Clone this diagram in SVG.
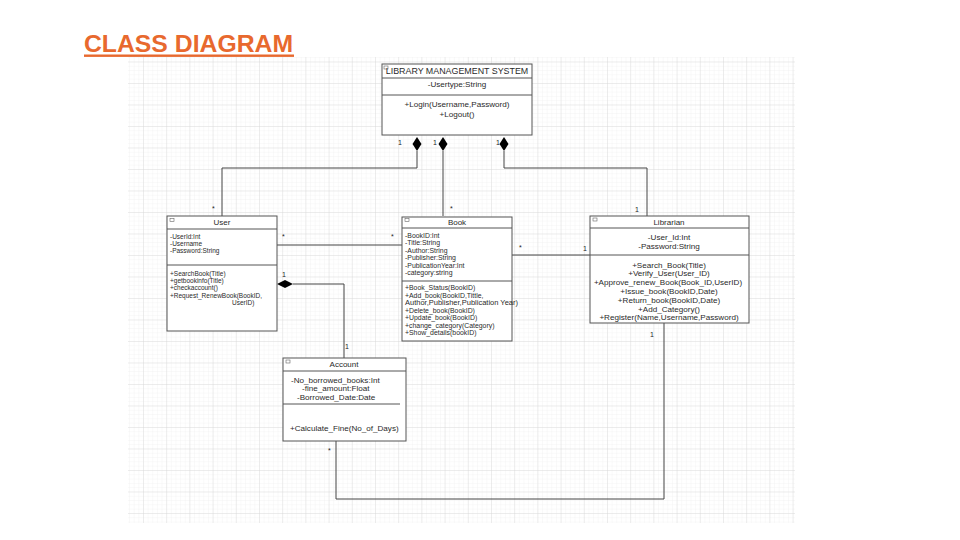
<svg xmlns="http://www.w3.org/2000/svg" width="960" height="540" viewBox="0 0 960 540">
<defs>
<pattern id="minor" patternUnits="userSpaceOnUse" x="143" y="83" width="4.64" height="4.3">
<path d="M0 0H4.64M0 0V4.3" fill="none" stroke="#efefef" stroke-width="0.7"/>
</pattern>
<pattern id="major" patternUnits="userSpaceOnUse" x="143" y="83" width="23.2" height="21.5">
<path d="M0 0H23.2M0 0V21.5" fill="none" stroke="#d9d9d9" stroke-width="0.8"/>
</pattern>
<style>
.box{fill:#fff;stroke:#555;stroke-width:1}
.div{stroke:#555;stroke-width:1}
.t{font-family:"Liberation Sans",Arial,sans-serif;fill:#2a2a2a}
.su{font-size:6.5px}
.sb{font-size:6.9px}
.s8{font-size:8.1px}
.hd{font-size:8px;text-anchor:middle}
.mid{text-anchor:middle}
.con{fill:none;stroke:#444;stroke-width:1}
.lbl{font-family:"Liberation Sans",Arial,sans-serif;font-size:7px;fill:#222}
.ic{fill:#fff;stroke:#666;stroke-width:0.6}
</style>
</defs>
<rect width="960" height="540" fill="#fff"/>
<g id="grid">
<rect x="128" y="57" width="667" height="466" fill="url(#minor)"/>
<rect x="128" y="57" width="667" height="466" fill="url(#major)"/>
</g>
<g id="title">
<text x="84" y="52" font-family="Liberation Sans,Arial,sans-serif" font-weight="bold" font-size="24.5" fill="#E8692E" textLength="209" lengthAdjust="spacingAndGlyphs">CLASS DIAGRAM</text>
<rect x="84" y="54.5" width="210" height="2.4" fill="#E8692E"/>
</g>
<g id="connectors">
<path class="con" d="M417 151V168H222V216"/>
<path class="con" d="M443 151V216"/>
<path class="con" d="M504 151V168H647V216"/>
<path class="con" d="M277 245H402"/>
<path class="con" d="M512 255H590"/>
<path class="con" d="M293 284H344V358"/>
<path class="con" d="M336 441V499H664V323"/>
<path d="M417 137L421.5 144L417 151L412.5 144Z" fill="#000"/>
<path d="M443 137L447.5 144L443 151L438.5 144Z" fill="#000"/>
<path d="M504 137L508.5 144L504 151L499.5 144Z" fill="#000"/>
<path d="M277 284L285 280L293 284L285 288Z" fill="#000"/>
<text class="lbl" x="398" y="145">1</text>
<text class="lbl" x="433" y="145">1</text>
<text class="lbl" x="496" y="145">1</text>
<text class="lbl" x="212" y="211">*</text>
<text class="lbl" x="450" y="211">*</text>
<text class="lbl" x="635" y="212">1</text>
<text class="lbl" x="282" y="239">*</text>
<text class="lbl" x="391" y="239">*</text>
<text class="lbl" x="519" y="250">*</text>
<text class="lbl" x="583" y="251">1</text>
<text class="lbl" x="282" y="277">1</text>
<text class="lbl" x="345" y="349">1</text>
<text class="lbl" x="328" y="453">*</text>
<text class="lbl" x="650" y="337">1</text>
</g>
<g id="lms">
<rect class="box" x="382" y="64" width="150" height="71"/>
<line class="div" x1="382" y1="78" x2="532" y2="78"/>
<line class="div" x1="382" y1="95" x2="532" y2="95"/>
<rect class="ic" x="384" y="66" width="4" height="3"/>
<text class="t" x="457" y="74" font-size="8.9px" text-anchor="middle">LIBRARY MANAGEMENT SYSTEM</text>
<text class="t s8 mid" x="457" y="87">-Usertype:String</text>
<text class="t s8 mid" x="457" y="107">+Login(Username,Password)</text>
<text class="t s8 mid" x="457" y="117">+Logout()</text>
</g>
<g id="user">
<rect class="box" x="167" y="216" width="110" height="115"/>
<line class="div" x1="167" y1="229" x2="277" y2="229"/>
<line class="div" x1="167" y1="265" x2="277" y2="265"/>
<rect class="ic" x="170" y="218.5" width="4" height="3"/>
<text class="t hd" x="222" y="225">User</text>
<text class="t su" x="170" y="239">-UserId:Int</text>
<text class="t su" x="170" y="246">-Username</text>
<text class="t su" x="170" y="253">-Password:String</text>
<text class="t su" x="170" y="276">+SearchBook(Title)</text>
<text class="t su" x="170" y="283">+getbookinfo(Title)</text>
<text class="t su" x="170" y="290">+checkaccount()</text>
<text class="t su" x="170" y="298">+Request_RenewBook(BookID,</text>
<text class="t su" x="232" y="305">UserID)</text>
</g>
<g id="book">
<rect class="box" x="402" y="217" width="110" height="124"/>
<line class="div" x1="402" y1="228" x2="512" y2="228"/>
<line class="div" x1="402" y1="281" x2="512" y2="281"/>
<rect class="ic" x="405" y="218.5" width="4" height="3"/>
<text class="t hd" x="457" y="225">Book</text>
<text class="t sb" x="405" y="237.5">-BookID:Int</text>
<text class="t sb" x="405" y="245">-Title:String</text>
<text class="t sb" x="405" y="252.5">-Author:String</text>
<text class="t sb" x="405" y="260">-Publisher:String</text>
<text class="t sb" x="405" y="267.5">-PublicationYear:Int</text>
<text class="t sb" x="405" y="275">-category:string</text>
<text class="t sb" x="405" y="290">+Book_Status(BookID)</text>
<text class="t sb" x="405" y="297.5">+Add_book(BookID,Tittle,</text>
<text class="t sb" x="405" y="305" textLength="113" lengthAdjust="spacingAndGlyphs">Author,Publisher,Publication Year)</text>
<text class="t sb" x="405" y="312.5">+Delete_book(BookID)</text>
<text class="t sb" x="405" y="320">+Update_book(BookID)</text>
<text class="t sb" x="405" y="327.5">+change_category(Category)</text>
<text class="t sb" x="405" y="335">+Show_details(bookID)</text>
</g>
<g id="librarian">
<rect class="box" x="590" y="216" width="159" height="107"/>
<line class="div" x1="590" y1="228" x2="749" y2="228"/>
<line class="div" x1="590" y1="255" x2="749" y2="255"/>
<rect class="ic" x="593" y="218" width="4" height="3"/>
<text class="t hd" x="669" y="225">Librarian</text>
<text class="t s8 mid" x="669" y="240">-User_Id:Int</text>
<text class="t s8 mid" x="669" y="249">-Password:String</text>
<text class="t s8 mid" x="669" y="268">+Search_Book(Title)</text>
<text class="t s8 mid" x="669" y="276">+Verify_User(User_ID)</text>
<text class="t s8 mid" x="668" y="285">+Approve_renew_Book(Book_ID,UserID)</text>
<text class="t s8 mid" x="669" y="294">+Issue_book(BookID,Date)</text>
<text class="t s8 mid" x="669" y="303">+Return_book(BookID,Date)</text>
<text class="t s8 mid" x="669" y="312">+Add_Category()</text>
<text class="t s8 mid" x="669" y="320">+Register(Name,Username,Password)</text>
</g>
<g id="account">
<rect class="box" x="283" y="358" width="123" height="83"/>
<line class="div" x1="283" y1="371" x2="406" y2="371"/>
<line class="div" x1="283" y1="404" x2="400" y2="404"/>
<rect class="ic" x="286" y="360" width="4" height="3"/>
<text class="t hd" x="344" y="367">Account</text>
<text class="t s8" x="291" y="383">-No_borrowed_books:Int</text>
<text class="t s8" x="302" y="391">-fine_amount:Float</text>
<text class="t s8" x="297" y="400">-Borrowed_Date:Date</text>
<text class="t s8" x="290" y="431">+Calculate_Fine(No_of_Days)</text>
</g>
</svg>
